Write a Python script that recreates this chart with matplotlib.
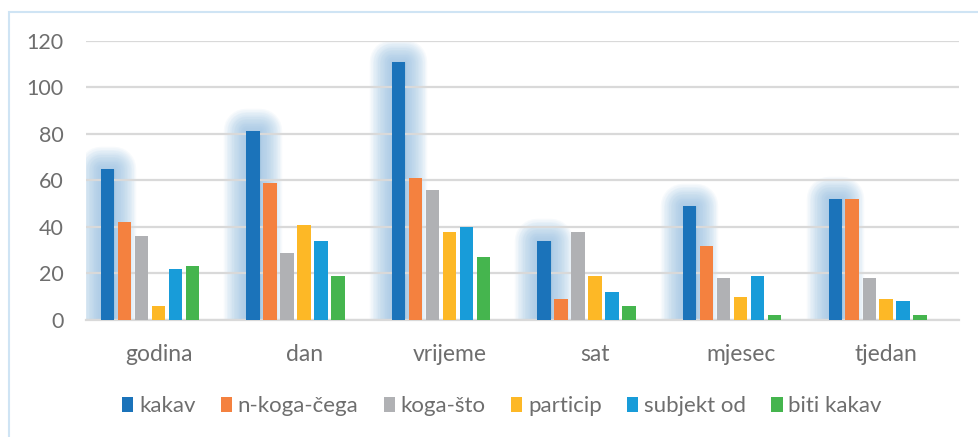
import matplotlib
matplotlib.use("Agg")
import matplotlib.pyplot as plt
import numpy as np
from matplotlib.patches import Rectangle

categories = ["godina", "dan", "vrijeme", "sat", "mjesec", "tjedan"]
series = ["kakav", "n-koga-čega", "koga-što", "particip", "subjekt od", "biti kakav"]
kakav = [65, 81, 111, 34, 49, 52]
n_koga_cega = [42, 59, 61, 9, 32, 52]
koga_sto = [36, 29, 56, 38, 18, 18]
particip = [6, 41, 38, 19, 10, 9]
subjekt_od = [22, 34, 40, 12, 19, 8]
biti_kakav = [23, 19, 27, 6, 2, 2]
yticks = [0, 20, 40, 60, 80, 100, 120]

values = [kakav, n_koga_cega, koga_sto, particip, subjekt_od, biti_kakav]
colors = ["#1b73ba", "#f4813f", "#b0b1b4", "#fdb826", "#189cd9", "#45b54e"]
glow = "#8dbae0"
text_col = "#6e6e6e"

plt.rcParams["font.family"] = ["Lato", "DejaVu Sans"]

W, H, DPI = 979, 437, 100
fig = plt.figure(figsize=(W / DPI, H / DPI), dpi=DPI)
ax = fig.add_axes([86 / W, 1 - 320 / H, (959 - 86) / W, (320 - 40.7) / H])

x = np.arange(len(categories))
step = 17 / 145.5
bw = 13.5 / 145.5
# 7 slots per group (last one empty), so the bars sit a half slot left
for i, (name, vals) in enumerate(zip(series, values)):
    xs = x + (i - 3) * step
    if i == 0:
        # soft glow behind the first series
        for lw in range(32, 0, -2):
            ax.bar(xs, vals, bw, color=glow, edgecolor=glow, linewidth=lw,
                   alpha=0.065, joinstyle="round", zorder=0.5)
    ax.bar(xs, vals, bw, color=colors[i], label=name, zorder=3)

ax.set_xlim(-0.5, len(categories) - 0.5)
ax.set_ylim(0, 120)
ax.set_yticks(yticks)
ax.set_xticks(x)
ax.set_xticklabels(categories)
ax.yaxis.grid(True, color="#d9d9d9", linewidth=1.6, zorder=1)
ax.set_axisbelow(False)
for s in ["top", "right", "left"]:
    ax.spines[s].set_visible(False)
ax.spines["bottom"].set_color("#d9d9d9")
ax.spines["bottom"].set_linewidth(1.6)
ax.spines["bottom"].set_zorder(1)
ax.tick_params(length=0, colors=text_col)
ax.tick_params(axis="x", pad=17, labelsize=16.5)
ax.tick_params(axis="y", pad=16, labelsize=15.5)
ax.patch.set_alpha(0)

leg = fig.legend(loc="center", bbox_to_anchor=(502 / W, 1 - 406 / H), ncol=6,
                 frameon=False, fontsize=16, handlelength=0.5, handleheight=0.65,
                 handletextpad=0.25, columnspacing=1.15, labelcolor=text_col)

# outer chart border (only top/left edges visible in the crop)
fig.add_artist(Rectangle((9 / W, -0.1), 1.2, 1 - 12 / H + 0.1, transform=fig.transFigure,
                         fill=False, edgecolor="#cfe4f4", linewidth=1.5))

fig.savefig("out.png", dpi=DPI)
